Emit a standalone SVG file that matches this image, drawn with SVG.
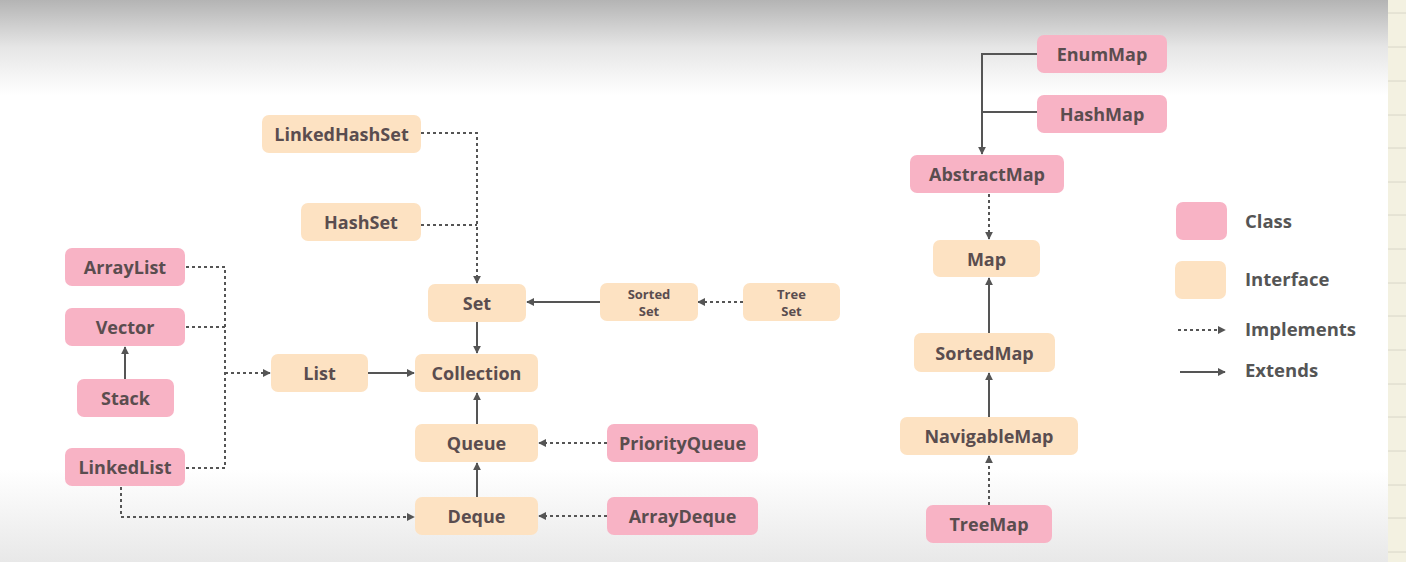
<svg xmlns="http://www.w3.org/2000/svg" width="1406" height="562" viewBox="0 0 1406 562">
  <defs>
    <linearGradient id="topShade" x1="0" y1="0" x2="0" y2="1">
      <stop offset="0" stop-color="#b4b4b4"/>
      <stop offset="0.5" stop-color="#e6e6e6"/>
      <stop offset="1" stop-color="#ffffff"/>
    </linearGradient>
    <linearGradient id="bottomShade" x1="0" y1="0" x2="0" y2="1">
      <stop offset="0" stop-color="#ffffff"/>
      <stop offset="1" stop-color="#e8e8e8"/>
    </linearGradient>
    <marker id="arrow" viewBox="0 0 10 10" refX="9" refY="5" markerWidth="8" markerHeight="8" markerUnits="userSpaceOnUse" orient="auto">
      <path d="M0,0 L10,5 L0,10 z" fill="#555"/>
    </marker>
    <style>
      .cls { fill: #f8b3c5; }
      .ifc { fill: #fde2c2; }
      .lbl { font-family: "Open Sans", "Liberation Sans", sans-serif; font-weight: 700; font-size: 18px; fill: #5a4d4f; text-anchor: middle; dominant-baseline: central; }
      .sm { font-size: 13px; }
      .leg { font-family: "Open Sans", "Liberation Sans", sans-serif; font-weight: 700; font-size: 18.5px; fill: #555; }
      .ext { fill: none; stroke: #555; stroke-width: 2; }
      .imp { fill: none; stroke: #555; stroke-width: 2; stroke-dasharray: 3 3; }
    </style>
  </defs>

  <!-- background -->
  <rect x="0" y="0" width="1406" height="562" fill="#ffffff"/>
  <rect x="0" y="0" width="1406" height="95" fill="url(#topShade)"/>
  <rect x="0" y="470" width="1406" height="92" fill="url(#bottomShade)"/>
  <!-- ruled paper strip at the right edge -->
  <rect x="1388" y="0" width="18" height="562" fill="#f3f1e1"/>
  <g stroke="#d8d6c8" stroke-width="1">
    <line x1="1388" y1="13" x2="1406" y2="13"/>
    <line x1="1388" y1="47" x2="1406" y2="47"/>
    <line x1="1388" y1="81" x2="1406" y2="81"/>
    <line x1="1388" y1="115" x2="1406" y2="115"/>
    <line x1="1388" y1="148" x2="1406" y2="148"/>
    <line x1="1388" y1="182" x2="1406" y2="182"/>
    <line x1="1388" y1="215" x2="1406" y2="215"/>
    <line x1="1388" y1="249" x2="1406" y2="249"/>
    <line x1="1388" y1="283" x2="1406" y2="283"/>
    <line x1="1388" y1="316" x2="1406" y2="316"/>
    <line x1="1388" y1="350" x2="1406" y2="350"/>
    <line x1="1388" y1="384" x2="1406" y2="384"/>
    <line x1="1388" y1="417" x2="1406" y2="417"/>
    <line x1="1388" y1="451" x2="1406" y2="451"/>
    <line x1="1388" y1="485" x2="1406" y2="485"/>
    <line x1="1388" y1="518" x2="1406" y2="518"/>
    <line x1="1388" y1="552" x2="1406" y2="552"/>
  </g>

  <!-- connectors -->
  <g id="connectors">
    <!-- set branch -->
    <path class="imp" d="M421,133 H477 V283" marker-end="url(#arrow)"/>
    <path class="imp" d="M421,225 H477"/>
    <path class="ext" d="M477,322 V353" marker-end="url(#arrow)"/>
    <path class="ext" d="M600,302 H527" marker-end="url(#arrow)"/>
    <path class="imp" d="M743,302 H698" marker-end="url(#arrow)"/>
    <!-- list branch -->
    <path class="imp" d="M186,267 H225 V468 H186"/>
    <path class="imp" d="M186,327 H225"/>
    <path class="imp" d="M225,373 H270" marker-end="url(#arrow)"/>
    <path class="ext" d="M125,379 V347" marker-end="url(#arrow)"/>
    <path class="ext" d="M368,373 H414" marker-end="url(#arrow)"/>
    <!-- queue branch -->
    <path class="ext" d="M477,424 V393" marker-end="url(#arrow)"/>
    <path class="ext" d="M477,497 V463" marker-end="url(#arrow)"/>
    <path class="imp" d="M607,443 H539" marker-end="url(#arrow)"/>
    <path class="imp" d="M607,516 H539" marker-end="url(#arrow)"/>
    <path class="imp" d="M121,487 V517 H414" marker-end="url(#arrow)"/>
    <!-- map hierarchy -->
    <path class="ext" d="M1037,54 H982 V154" marker-end="url(#arrow)"/>
    <path class="ext" d="M1037,112 H982"/>
    <path class="imp" d="M989,194 V239" marker-end="url(#arrow)"/>
    <path class="ext" d="M989,333 V278" marker-end="url(#arrow)"/>
    <path class="ext" d="M989,417 V373" marker-end="url(#arrow)"/>
    <path class="imp" d="M989,505 V456" marker-end="url(#arrow)"/>
  </g>

  <!-- collection interfaces -->
  <g id="linkedhashset"><rect class="ifc" x="262" y="115" width="159" height="38" rx="7"/><text class="lbl" x="341.5" y="134">LinkedHashSet</text></g>
  <g id="hashset"><rect class="ifc" x="301" y="203" width="120" height="38" rx="7"/><text class="lbl" x="361" y="222">HashSet</text></g>
  <g id="set"><rect class="ifc" x="428" y="284" width="98" height="38" rx="7"/><text class="lbl" x="477" y="303">Set</text></g>
  <g id="sortedset"><rect class="ifc" x="600" y="283" width="98" height="38" rx="7"/><text class="lbl sm" x="649" y="293.5">Sorted<tspan x="649" dy="17.5">Set</tspan></text></g>
  <g id="treeset"><rect class="ifc" x="743" y="283" width="97" height="38" rx="7"/><text class="lbl sm" x="791.5" y="293.5">Tree<tspan x="791.5" dy="17.5">Set</tspan></text></g>
  <g id="list"><rect class="ifc" x="271" y="354" width="97" height="38" rx="7"/><text class="lbl" x="319.5" y="373">List</text></g>
  <g id="collection"><rect class="ifc" x="415" y="354" width="123" height="38" rx="7"/><text class="lbl" x="476.5" y="373">Collection</text></g>
  <g id="queue"><rect class="ifc" x="415" y="424" width="123" height="38" rx="7"/><text class="lbl" x="476.5" y="443">Queue</text></g>
  <g id="deque"><rect class="ifc" x="415" y="497" width="123" height="38" rx="7"/><text class="lbl" x="476.5" y="516">Deque</text></g>

  <!-- collection classes -->
  <g id="arraylist"><rect class="cls" x="65" y="248" width="120" height="38" rx="7"/><text class="lbl" x="125" y="267">ArrayList</text></g>
  <g id="vector"><rect class="cls" x="65" y="308" width="120" height="38" rx="7"/><text class="lbl" x="125" y="327">Vector</text></g>
  <g id="stack"><rect class="cls" x="77" y="379" width="97" height="38" rx="7"/><text class="lbl" x="125.5" y="398">Stack</text></g>
  <g id="linkedlist"><rect class="cls" x="65" y="448" width="120" height="38" rx="7"/><text class="lbl" x="125" y="467">LinkedList</text></g>
  <g id="priorityqueue"><rect class="cls" x="607" y="424" width="151" height="38" rx="7"/><text class="lbl" x="682.5" y="443">PriorityQueue</text></g>
  <g id="arraydeque"><rect class="cls" x="607" y="497" width="151" height="38" rx="7"/><text class="lbl" x="682.5" y="516">ArrayDeque</text></g>

  <!-- map hierarchy -->
  <g id="enummap"><rect class="cls" x="1037" y="35" width="130" height="38" rx="7"/><text class="lbl" x="1102" y="54">EnumMap</text></g>
  <g id="hashmap"><rect class="cls" x="1037" y="95" width="130" height="38" rx="7"/><text class="lbl" x="1102" y="114">HashMap</text></g>
  <g id="abstractmap"><rect class="cls" x="910" y="155" width="154" height="38" rx="7"/><text class="lbl" x="987" y="174">AbstractMap</text></g>
  <g id="map"><rect class="ifc" x="933" y="240" width="107" height="37" rx="7"/><text class="lbl" x="986.5" y="258.5">Map</text></g>
  <g id="sortedmap"><rect class="ifc" x="914" y="333" width="141" height="39" rx="7"/><text class="lbl" x="984.5" y="352.5">SortedMap</text></g>
  <g id="navigablemap"><rect class="ifc" x="900" y="417" width="178" height="38" rx="7"/><text class="lbl" x="989" y="436">NavigableMap</text></g>
  <g id="treemap"><rect class="cls" x="926" y="505" width="126" height="38" rx="7"/><text class="lbl" x="989" y="524">TreeMap</text></g>

  <!-- legend -->
  <g id="legend">
    <rect class="cls" x="1176" y="202" width="51" height="38" rx="7"/>
    <text class="leg" x="1245" y="228">Class</text>
    <rect class="ifc" x="1175" y="261" width="51" height="38" rx="7"/>
    <text class="leg" x="1245" y="286">Interface</text>
    <path class="imp" d="M1178,330 H1225" marker-end="url(#arrow)"/>
    <text class="leg" x="1245" y="336">Implements</text>
    <path class="ext" d="M1180,372 H1225" marker-end="url(#arrow)"/>
    <text class="leg" x="1245" y="377">Extends</text>
  </g>
</svg>
